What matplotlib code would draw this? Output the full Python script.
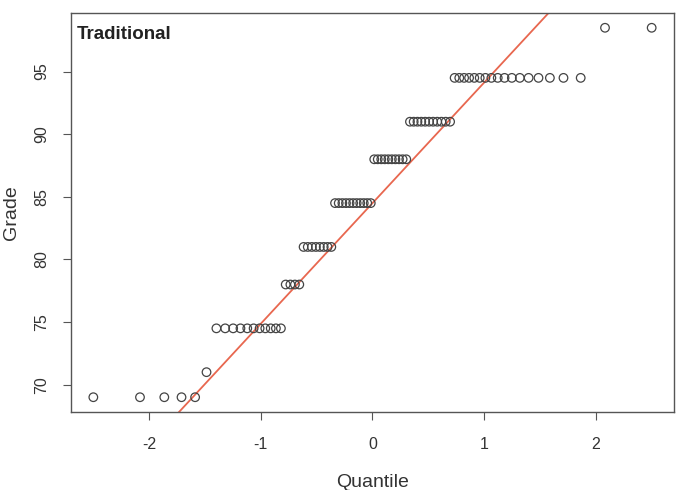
import matplotlib
matplotlib.use("Agg")
import matplotlib.pyplot as plt
import numpy as np
from statistics import NormalDist

# Grades (sorted): value and count
grade_levels = [69.0, 71.0, 74.5, 78.0, 81.0, 84.5, 88.0, 91.0, 94.5, 98.5]
grade_counts = [5, 1, 11, 4, 8, 11, 10, 11, 17, 2]
panel_title = "Traditional"
x_ticks = [-2, -1, 0, 1, 2]
y_ticks = [70, 75, 80, 85, 90, 95]

grades = np.repeat(grade_levels, grade_counts)
n = len(grades)
# theoretical normal quantiles (as R's qqnorm / ppoints)
a = 3 / 8 if n <= 10 else 0.5
probs = (np.arange(1, n + 1) - a) / (n + 1 - 2 * a)
nd = NormalDist()
theo = np.array([nd.inv_cdf(p) for p in probs])

# qqline through the quartiles
q1, q3 = np.quantile(grades, [0.25, 0.75])
z1, z3 = nd.inv_cdf(0.25), nd.inv_cdf(0.75)
slope = (q3 - q1) / (z3 - z1)
intercept = q1 - slope * z1

plt.rcParams['font.family'] = ['Liberation Sans', 'DejaVu Sans']
fig = plt.figure(figsize=(6.78, 4.9), dpi=100)
ax = fig.add_axes([71 / 678, 1 - 412 / 490, (674 - 71) / 678, (412 - 13) / 490])

ax.scatter(theo, grades, s=38, facecolors='none', edgecolors='#444444', linewidths=0.9, zorder=3)

xr = theo.max() - theo.min()
yr = grades.max() - grades.min()
xlim = (theo.min() - 0.04 * xr, theo.max() + 0.04 * xr)
ylim = (grades.min() - 0.04 * yr, grades.max() + 0.04 * yr)
ax.axline((0, intercept), slope=slope, color='#e8674f', lw=1.3, zorder=2)
ax.set_xlim(*xlim)
ax.set_ylim(*ylim)

ax.set_xticks(x_ticks)
ax.set_yticks(y_ticks)
ax.set_xticklabels([str(t) for t in x_ticks])
ax.set_yticklabels([str(t) for t in y_ticks], rotation=90, va='center')
ax.tick_params(axis='both', direction='out', length=6, width=0.8, colors='#555555',
               labelcolor='#333333', labelsize=11.5)
ax.tick_params(axis='x', pad=12)
ax.tick_params(axis='y', pad=10)
for s in ax.spines.values():
    s.set_color('#555555')
    s.set_linewidth(1.0)

ax.set_xlabel('Quantile', fontsize=14, color='#333333', labelpad=16)
ax.set_ylabel('Grade', fontsize=14, color='#333333', labelpad=10)
ax.text(0.01, 0.945, panel_title, transform=ax.transAxes, fontsize=13.5, fontweight='bold',
        color='#222222', ha='left', va='center')

fig.savefig('out.png', dpi=100)
